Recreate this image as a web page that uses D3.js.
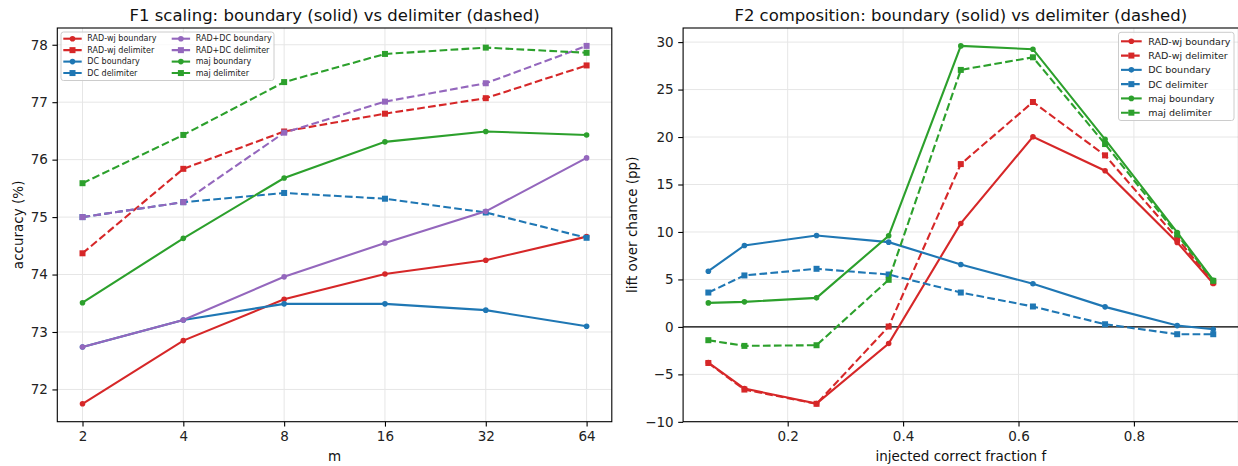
<!DOCTYPE html>
<html lang="en">
<head>
<meta charset="utf-8">
<title>F1 / F2 boundary vs delimiter</title>
<script src="https://cdn.jsdelivr.net/npm/d3@7"></script>
<style>
  body { margin: 0; background: #fff; }
  svg { display: block; font-family: "DejaVu Sans", sans-serif; }
  .grid line { stroke: #e6e6e6; stroke-width: 1; }
  .tick text { fill: #222; }
</style>
</head>
<body>
<div id="chart"></div>
<script>
// ---- data ----
var mValues = [2, 4, 8, 16, 32, 64];
var mTicks = [2, 4, 8, 16, 32, 64];

var f1RadwjBoundary = [71.75, 72.85, 73.57, 74.01, 74.25, 74.66];
var f1RadwjDelim    = [74.37, 75.84, 76.49, 76.80, 77.07, 77.64];
var f1DcBoundary    = [72.74, 73.21, 73.49, 73.49, 73.38, 73.10];
var f1DcDelim       = [75.00, 75.26, 75.42, 75.32, 75.08, 74.64];
var f1RaddcBoundary = [72.74, 73.21, 73.96, 74.55, 75.10, 76.03];
var f1RaddcDelim    = [75.00, 75.26, 76.47, 77.01, 77.33, 77.98];
var f1MajBoundary   = [73.51, 74.63, 75.68, 76.31, 76.49, 76.43];
var f1MajDelim      = [75.59, 76.43, 77.35, 77.84, 77.95, 77.86];
var f1YTicks = [72, 73, 74, 75, 76, 77, 78];

var fValues = [0.0625, 0.125, 0.25, 0.375, 0.5, 0.625, 0.75, 0.875, 0.9375];
var fTicks = [0.2, 0.4, 0.6, 0.8];

var f2RadwjBoundary = [-3.76, -6.5, -8.08, -1.75, 10.9, 20.03, 16.45, 8.9, 4.57];
var f2RadwjDelim    = [-3.8, -6.6, -8.1, 0.04, 17.15, 23.69, 18.07, 9.32, 4.7];
var f2DcBoundary    = [5.87, 8.58, 9.63, 8.93, 6.58, 4.54, 2.11, 0.14, -0.24];
var f2DcDelim       = [3.62, 5.42, 6.12, 5.52, 3.62, 2.15, 0.28, -0.77, -0.77];
var f2MajBoundary   = [2.53, 2.64, 3.06, 9.6, 29.6, 29.25, 19.76, 9.95, 4.92];
var f2MajDelim      = [-1.40, -2.0, -1.93, 4.96, 27.07, 28.4, 19.26, 9.74, 4.85];
var f2YTicks = [-10, -5, 0, 5, 10, 15, 20, 25, 30];

var RED = "#d62728", BLUE = "#1f77b4", PURPLE = "#9467bd", GREEN = "#2ca02c";

var f1Series = [
  {name: "RAD-wj boundary", color: RED, dashed: false, values: f1RadwjBoundary},
  {name: "RAD-wj delimiter", color: RED, dashed: true, values: f1RadwjDelim},
  {name: "DC boundary", color: BLUE, dashed: false, values: f1DcBoundary},
  {name: "DC delimiter", color: BLUE, dashed: true, values: f1DcDelim},
  {name: "RAD+DC boundary", color: PURPLE, dashed: false, values: f1RaddcBoundary},
  {name: "RAD+DC delimiter", color: PURPLE, dashed: true, values: f1RaddcDelim},
  {name: "maj boundary", color: GREEN, dashed: false, values: f1MajBoundary},
  {name: "maj delimiter", color: GREEN, dashed: true, values: f1MajDelim}
];
var f2Series = [
  {name: "RAD-wj boundary", color: RED, dashed: false, values: f2RadwjBoundary},
  {name: "RAD-wj delimiter", color: RED, dashed: true, values: f2RadwjDelim},
  {name: "DC boundary", color: BLUE, dashed: false, values: f2DcBoundary},
  {name: "DC delimiter", color: BLUE, dashed: true, values: f2DcDelim},
  {name: "maj boundary", color: GREEN, dashed: false, values: f2MajBoundary},
  {name: "maj delimiter", color: GREEN, dashed: true, values: f2MajDelim}
];

var W = 1238, H = 466;
var plotTop = 28, plotBottom = 421.7;
var DASH = "7.7,3.3";

var svg = d3.select("#chart").append("svg")
  .attr("width", W).attr("height", H);

// matplotlib-like 5% padding on the data range
function padded(lo, hi) {
  var p = (hi - lo) * 0.05;
  return [lo - p, hi + p];
}

function drawPanel(opt) {
  var g = svg.append("g");
  var x = opt.x, y = opt.y;
  var L = opt.left, R = opt.right;

  // grid
  var grid = g.append("g").attr("class", "grid");
  grid.selectAll("line.v").data(opt.xTicks).enter().append("line")
    .attr("x1", function(d) { return x(d); }).attr("x2", function(d) { return x(d); })
    .attr("y1", plotTop).attr("y2", plotBottom);
  grid.selectAll("line.h").data(opt.yTicks).enter().append("line")
    .attr("x1", L).attr("x2", R)
    .attr("y1", function(d) { return y(d); }).attr("y2", function(d) { return y(d); });

  if (opt.zeroLine) {
    g.append("line").attr("x1", L).attr("x2", R)
      .attr("y1", y(0)).attr("y2", y(0))
      .attr("stroke", "#000").attr("stroke-width", 1.1);
  }

  // lines + markers
  var line = d3.line()
    .x(function(d, i) { return x(opt.xs[i]); })
    .y(function(d) { return y(d); });

  opt.series.forEach(function(s) {
    var sg = g.append("g");
    sg.append("path").datum(s.values)
      .attr("d", line)
      .attr("fill", "none")
      .attr("stroke", s.color)
      .attr("stroke-width", 2.1)
      .attr("stroke-dasharray", s.dashed ? DASH : null);
    if (s.dashed) {
      sg.selectAll("rect").data(s.values).enter().append("rect")
        .attr("x", function(d, i) { return x(opt.xs[i]) - 3; })
        .attr("y", function(d) { return y(d) - 3; })
        .attr("width", 6).attr("height", 6)
        .attr("fill", s.color);
    } else {
      sg.selectAll("circle").data(s.values).enter().append("circle")
        .attr("cx", function(d, i) { return x(opt.xs[i]); })
        .attr("cy", function(d) { return y(d); })
        .attr("r", 2.8)
        .attr("fill", s.color);
    }
  });

  // axes
  var xAxis = d3.axisBottom(x).tickValues(opt.xTicks).tickSize(4.9).tickPadding(4.5)
    .tickFormat(opt.xFormat);
  var yAxis = d3.axisLeft(y).tickValues(opt.yTicks).tickSize(4.9).tickPadding(4.5)
    .tickFormat(opt.yFormat);

  var xa = g.append("g").attr("transform", "translate(0," + plotBottom + ")").call(xAxis);
  var ya = g.append("g").attr("transform", "translate(" + L + ",0)").call(yAxis);
  [xa, ya].forEach(function(a) {
    a.select(".domain").remove();
    a.selectAll(".tick line").attr("stroke", "#000").attr("stroke-width", 1.1);
    a.selectAll(".tick text").attr("font-size", "13.5px").attr("font-family", "DejaVu Sans");
  });

  // frame
  g.append("rect").attr("x", L).attr("y", plotTop)
    .attr("width", R - L).attr("height", plotBottom - plotTop)
    .attr("fill", "none").attr("stroke", "#000").attr("stroke-width", 1.1);

  // titles and labels
  g.append("text").attr("x", (L + R) / 2).attr("y", 21)
    .attr("text-anchor", "middle").attr("font-size", "16.5px").attr("fill", "#111")
    .text(opt.title);
  g.append("text").attr("x", (L + R) / 2).attr("y", 461)
    .attr("text-anchor", "middle").attr("font-size", "13.5px").attr("fill", "#111")
    .text(opt.xLabel);
  g.append("text")
    .attr("transform", "translate(" + opt.yLabelX + "," + ((plotTop + plotBottom) / 2) + ") rotate(-90)")
    .attr("text-anchor", "middle").attr("dominant-baseline", "middle")
    .attr("font-size", "13.5px").attr("fill", "#111")
    .text(opt.yLabel);

  // legend
  var lg = opt.legend;
  var leg = g.append("g");
  leg.append("rect").attr("x", lg.x0).attr("y", lg.y0)
    .attr("width", lg.x1 - lg.x0).attr("height", lg.y1 - lg.y0)
    .attr("rx", 2.5).attr("fill", "#fff").attr("fill-opacity", 0.8)
    .attr("stroke", "#cccccc").attr("stroke-width", 1);
  opt.series.forEach(function(s, i) {
    var col = Math.floor(i / lg.perCol), row = i % lg.perCol;
    var hx = lg.colX[col], ry = lg.rowY0 + row * lg.rowStep;
    var e = leg.append("g");
    e.append("line").attr("x1", hx).attr("x2", hx + lg.handleW)
      .attr("y1", ry).attr("y2", ry)
      .attr("stroke", s.color).attr("stroke-width", 2.1)
      .attr("stroke-dasharray", s.dashed ? DASH : null);
    var mx = hx + lg.handleW / 2;
    if (s.dashed) {
      e.append("rect").attr("x", mx - 3).attr("y", ry - 3).attr("width", 6).attr("height", 6)
        .attr("fill", s.color);
    } else {
      e.append("circle").attr("cx", mx).attr("cy", ry).attr("r", 2.8).attr("fill", s.color);
    }
    e.append("text").attr("x", hx + lg.handleW + lg.gap).attr("y", ry)
      .attr("dominant-baseline", "central")
      .attr("font-size", lg.fontSize).attr("fill", "#222")
      .text(s.name);
  });
}

// ---- left panel: F1 scaling ----
var f1All = d3.merge(f1Series.map(function(s) { return s.values; }));
var f1Lx = 57.3, f1Rx = 611.8;
var lx = Math.log2(d3.min(mValues)), hx = Math.log2(d3.max(mValues));
var padX = (hx - lx) * 0.05;
var xF1 = d3.scaleLog().base(2)
  .domain([Math.pow(2, lx - padX), Math.pow(2, hx + padX)])
  .range([f1Lx, f1Rx]);
var yF1 = d3.scaleLinear()
  .domain(padded(d3.min(f1All), d3.max(f1All)))
  .range([plotBottom, plotTop]);

drawPanel({
  x: xF1, y: yF1, left: f1Lx, right: f1Rx,
  xs: mValues, series: f1Series,
  xTicks: mTicks, yTicks: f1YTicks,
  xFormat: d3.format("d"), yFormat: d3.format("d"),
  title: "F1 scaling: boundary (solid) vs delimiter (dashed)",
  xLabel: "m", yLabel: "accuracy (%)", yLabelX: 19,
  zeroLine: false,
  legend: {x0: 61, y0: 32, x1: 274, y1: 80.5, perCol: 4,
           colX: [63.3, 171.7], rowY0: 38.7, rowStep: 11.45,
           handleW: 18.4, gap: 5.6, fontSize: "8px"}
});

// ---- right panel: F2 composition ----
var f2All = d3.merge(f2Series.map(function(s) { return s.values; }));
var f2Lx = 683.1, f2Rx = 1238.5;
var xF2 = d3.scaleLinear()
  .domain(padded(d3.min(fValues), d3.max(fValues)))
  .range([f2Lx, f2Rx]);
var yF2 = d3.scaleLinear()
  .domain(padded(d3.min(f2All), d3.max(f2All)))
  .range([plotBottom, plotTop]);

drawPanel({
  x: xF2, y: yF2, left: f2Lx, right: f2Rx,
  xs: fValues, series: f2Series,
  xTicks: fTicks, yTicks: f2YTicks,
  xFormat: d3.format(".1f"),
  yFormat: function(d) { return d < 0 ? "\u2212" + Math.abs(d) : String(d); },
  title: "F2 composition: boundary (solid) vs delimiter (dashed)",
  xLabel: "injected correct fraction f", yLabel: "lift over chance (pp)", yLabelX: 633,
  zeroLine: true,
  legend: {x0: 1118.5, y0: 32.3, x1: 1234, y1: 120.5, perCol: 6,
           colX: [1121], rowY0: 41.3, rowStep: 14.28,
           handleW: 20.7, gap: 6.6, fontSize: "9.5px"}
});
</script>
</body>
</html>
